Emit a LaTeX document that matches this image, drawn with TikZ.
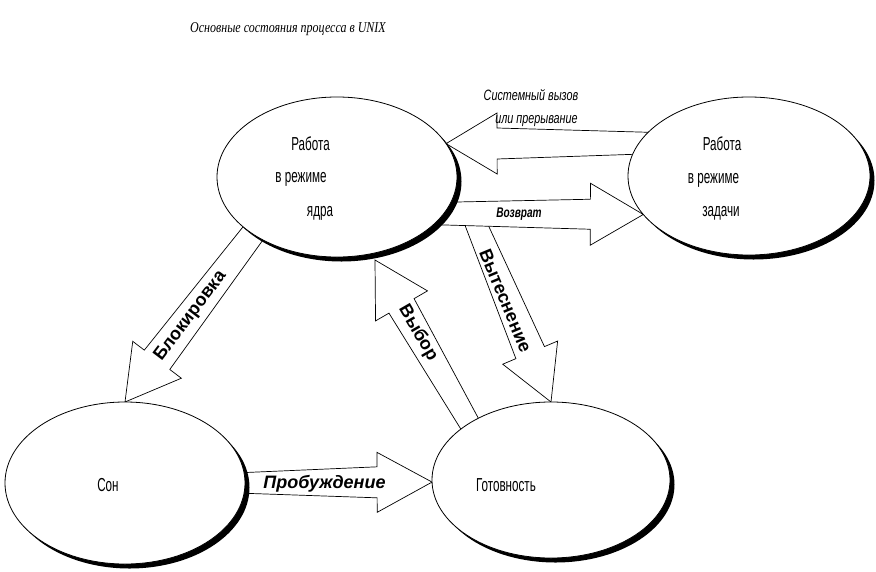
\documentclass[tikz,border=0pt]{standalone}
\usepackage{fontspec}
\setmainfont{Liberation Sans}
\newfontfamily\statefont[FakeStretch=0.62]{Liberation Sans}
\newfontfamily\lblnarrow[FakeStretch=0.72]{Liberation Sans}
\newfontfamily\titlefont[FakeStretch=0.8]{Liberation Serif}
\usetikzlibrary{shapes.geometric,shadows,calc,backgrounds}

\tikzset{
  state/.style={ellipse, draw, line width=0.8pt, fill=white, inner sep=0pt, outer sep=0pt,
    drop shadow={shadow xshift=4.5pt, shadow yshift=-4.5pt, opacity=1, fill=black}},
  statetext/.style={font=\statefont\fontsize{18.8}{20}\selectfont, anchor=base, inner sep=0pt},
  barrow/.style={draw, line width=0.7pt, fill=white, line join=miter},
  boldlbl/.style={font=\bfseries\fontsize{18}{20}\selectfont, inner sep=0pt},
  smalllbl/.style={font=\lblnarrow\itshape\fontsize{15}{17}\selectfont, anchor=base, inner sep=0pt},
  titlelbl/.style={font=\titlefont\itshape\fontsize{15}{17}\selectfont, anchor=base, inner sep=0pt}
}

% tail, tip, shaft half-width at tail, shaft half-width at head, head half-width, head length
\newcommand{\myblockarrow}[6]{%
  \coordinate (baH) at ($(#2)!#6!(#1)$);
  \draw[barrow] ($(#1)!#3!90:(#2)$) -- ($(baH)!#4!90:(#2)$) -- ($(baH)!#5!90:(#2)$) -- (#2)
     -- ($(baH)!#5!-90:(#2)$) -- ($(baH)!#4!-90:(#2)$) -- ($(#1)!#3!-90:(#2)$) -- cycle;}

\begin{document}
\begin{tikzpicture}[x=1pt,y=-1pt]
\useasboundingbox (0,0) rectangle (876,571);

% title
\node[titlelbl] (title) at (288,32.7) {Основные состояния процесса в UNIX};

% states
\node[state, minimum width=240pt, minimum height=160pt] (kern) at (337,177) {};
\node[state, minimum width=242pt, minimum height=158pt] (task) at (749,176) {};
\node[state, minimum width=240pt, minimum height=162pt] (sleep) at (125,483) {};
\node[state, minimum width=238pt, minimum height=156pt] (ready) at (551,480) {};

\node[statetext] (k1) at (310.5,150.7) {Работа};
\node[statetext] (k2) at (301,182.3) {в режиме};
\node[statetext] (k3) at (320,216.5) {ядра};
\node[statetext] (t1) at (722,150.7) {Работа};
\node[statetext] (t2) at (713.5,183.3) {в режиме};
\node[statetext] (t3) at (721,216.7) {задачи};
\node[statetext] (s1) at (108,491.7) {Сон};
\node[statetext] (r1) at (506,491) {Готовность};

% connector end points inside the states
\coordinate (sysTail) at (660,143);
\coordinate (retTail) at (420,213.5);
\coordinate (blkTail) at (270,211);
\coordinate (selTail) at (482.5,446);
\coordinate (selTip) at (375,260);
\coordinate (preTail) at (469.6,209);
\coordinate (wakTail) at (225,483);

\begin{scope}[on background layer]
  \myblockarrow{sysTail}{kern.17}{10.4pt}{15.5pt}{30.5pt}{51pt}
  \myblockarrow{preTail}{ready.north}{10.1pt}{15.5pt}{29.8pt}{53.6pt}
  \myblockarrow{retTail}{task.200.5}{10.75pt}{15pt}{31pt}{53pt}
  \myblockarrow{blkTail}{sleep.north}{11.2pt}{16pt}{30.5pt}{53pt}
  \myblockarrow{selTail}{selTip}{9.5pt}{14.5pt}{30pt}{53pt}
  \myblockarrow{wakTail}{ready.181.5}{9.6pt}{15.5pt}{30pt}{55pt}
\end{scope}

% labels
\node[smalllbl] (lsys1) at (531,100) {Системный вызов};
\node[smalllbl] (lsys2) at (536.5,123.3) {или прерывание};
\node[font=\lblnarrow\bfseries\itshape\fontsize{14}{16}\selectfont, anchor=base, inner sep=0pt] (lret) at (519,217) {Возврат};
\node[font=\bfseries\itshape\fontsize{18}{19}\selectfont, anchor=base, inner sep=0pt] (lwak) at (324.5,488.5) {Пробуждение};
\node[boldlbl, rotate=52.8] (lblk) at (190.5,316) {Блокировка};
\node[boldlbl, rotate=-60] (lsel) at (418,333) {Выбор};
\node[boldlbl, rotate=-67.5] (lpre) at (505.5,300.5) {Вытеснение};
\end{tikzpicture}
\end{document}
